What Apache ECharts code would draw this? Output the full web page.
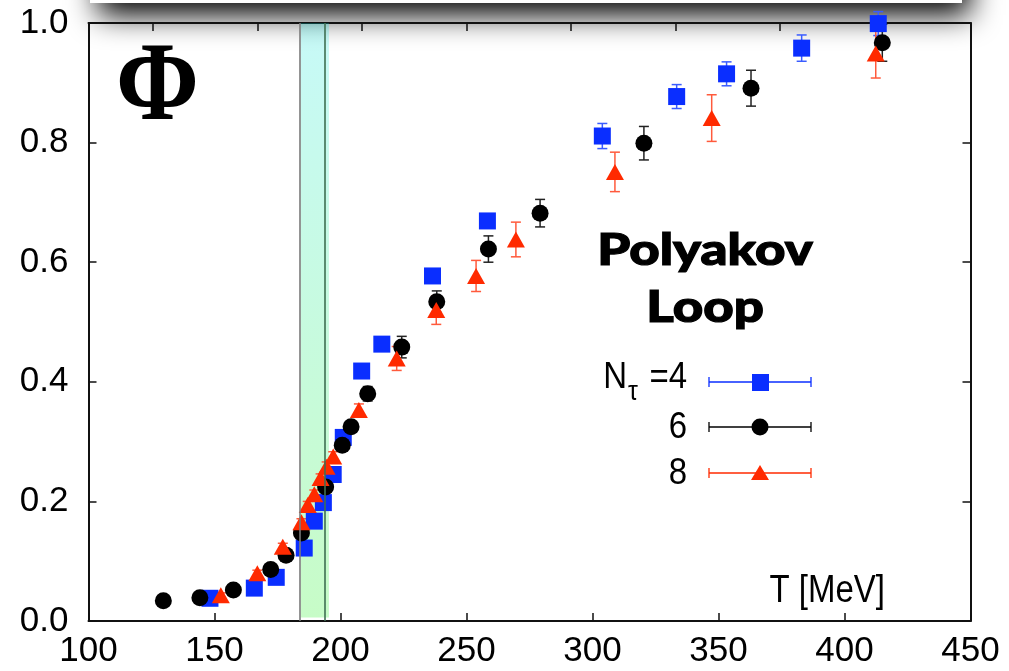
<!DOCTYPE html>
<html>
<head>
<meta charset="utf-8">
<script src="https://cdn.jsdelivr.net/npm/echarts@6/dist/echarts.min.js"></script>
<style>
html,body{margin:0;padding:0;background:#fff;}
#chart{width:1009px;height:671px;}
</style>
</head>
<body>
<div id="chart"></div>
<script>
// ---- data ----
const xTicksTop = [125.5, 167.0, 208.5, 250.0, 291.4, 332.9, 374.4, 415.8];
const bandRange = [184.2, 195.4];
const bandLines = [183.7, 193.6];

const T4 = [148.2, 165.8, 174.5, 185.6, 189.6, 193.2, 197.1, 201.1, 208.4, 216.4, 236.5, 258.3, 303.9, 333.4, 353.2, 383.0, 413.4];
const P4 = [0.038, 0.055, 0.073, 0.122, 0.167, 0.198, 0.245, 0.307, 0.418, 0.463, 0.577, 0.669, 0.811, 0.877, 0.915, 0.958, 0.999];
const E4 = [0.004, 0.004, 0.004, 0.005, 0.005, 0.005, 0.006, 0.006, 0.008, 0.008, 0.012, 0.012, 0.021, 0.020, 0.020, 0.022, 0.020];

const T6 = [129.7, 144.2, 157.5, 172.3, 178.4, 184.5, 194.1, 200.7, 204.2, 210.8, 224.3, 238.2, 258.7, 279.2, 320.4, 362.9, 415.0];
const P6 = [0.034, 0.039, 0.052, 0.086, 0.110, 0.147, 0.224, 0.294, 0.325, 0.380, 0.458, 0.534, 0.622, 0.682, 0.799, 0.891, 0.967];
const E6 = [0.003, 0.003, 0.004, 0.005, 0.005, 0.006, 0.007, 0.008, 0.009, 0.012, 0.018, 0.018, 0.022, 0.023, 0.028, 0.030, 0.031];

const T8 = [152.5, 167.0, 177.1, 184.5, 187.0, 189.6, 192.1, 194.5, 197.1, 207.3, 222.3, 238.0, 253.8, 269.6, 308.9, 347.3, 412.4];
const P8 = [0.043, 0.080, 0.124, 0.165, 0.194, 0.212, 0.239, 0.258, 0.275, 0.353, 0.439, 0.520, 0.577, 0.638, 0.751, 0.841, 0.949];
const E8 = [0.004, 0.005, 0.006, 0.006, 0.006, 0.007, 0.007, 0.008, 0.008, 0.010, 0.020, 0.024, 0.026, 0.029, 0.033, 0.039, 0.041];

// ---- styles ----
const BLUE = '#0a2eff', BLACK = '#000000', RED = '#ff2a00';
const FONT = '"Liberation Sans", Arial, Helvetica, sans-serif';

function pts(T, P, E) { return T.map((t, i) => [t, P[i], E[i]]); }

function errRender(color) {
  return function (params, api) {
    const x = api.value(0), y = api.value(1), e = api.value(2);
    const a = api.coord([x, y + e]);
    const b = api.coord([x, y - e]);
    const hw = 5;
    const st = { stroke: color, lineWidth: 1.5 };
    return {
      type: 'group',
      children: [
        { type: 'line', shape: { x1: a[0], y1: a[1], x2: b[0], y2: b[1] }, style: st },
        { type: 'line', shape: { x1: a[0] - hw, y1: a[1], x2: a[0] + hw, y2: a[1] }, style: st },
        { type: 'line', shape: { x1: b[0] - hw, y1: b[1], x2: b[0] + hw, y2: b[1] }, style: st }
      ]
    };
  };
}

const chart = echarts.init(document.getElementById('chart'), null, { renderer: 'canvas' });

const axisLineStyle = { color: '#111', width: 2 };

function legendRow(y, color, symbol) {
  const st = { stroke: color, lineWidth: 1.3 };
  const els = [
    { type: 'line', shape: { x1: 709, y1: y, x2: 811, y2: y }, style: st, z: 10 },
    { type: 'line', shape: { x1: 709, y1: y - 5, x2: 709, y2: y + 5 }, style: st, z: 10 },
    { type: 'line', shape: { x1: 811, y1: y - 5, x2: 811, y2: y + 5 }, style: st, z: 10 }
  ];
  if (symbol === 'rect') els.push({ type: 'rect', shape: { x: 752, y: y - 8, width: 17, height: 17 }, style: { fill: color }, z: 11 });
  if (symbol === 'circle') els.push({ type: 'circle', shape: { cx: 760, cy: y, r: 8.5 }, style: { fill: color }, z: 11 });
  if (symbol === 'tri') els.push({ type: 'polygon', shape: { points: [[760, y - 8], [769, y + 7], [751, y + 7]] }, style: { fill: color }, z: 11 });
  return els;
}

function txt(x, y, text, font, align, sy) {
  return { type: 'text', x: x, y: y, z: 10, scaleY: sy || 1, originX: 0, originY: 0,
    style: { text: text, font: font, fill: '#000', align: align, verticalAlign: 'middle' } };
}

const TITLE_FONT = '900 44px Lato, "Open Sans", sans-serif';

const graphics = [
  { type: 'rect', shape: { x: 90, y: -60, width: 872, height: 63 }, z: -1,
    style: { fill: '#ffffff', shadowBlur: 30, shadowOffsetY: 12, shadowOffsetX: 8, shadowColor: 'rgba(0,0,0,1)' } },
  txt(157.5, 90, 'Φ', 'bold 100px "Liberation Serif", "DejaVu Serif", serif', 'center', 1.12),
  { type: 'text', x: 705, y: 251, z: 10, scaleX: 1.2, originX: 0, originY: 0,
    style: { text: 'Polyakov', font: TITLE_FONT, fill: '#000', stroke: '#000', lineWidth: 1.2, align: 'center', verticalAlign: 'middle' } },
  { type: 'text', x: 705, y: 308, z: 10, scaleX: 1.2, originX: 0, originY: 0,
    style: { text: 'Loop', font: TITLE_FONT, fill: '#000', stroke: '#000', lineWidth: 1.2, align: 'center', verticalAlign: 'middle' } },
  txt(885, 592, 'T [MeV]', '33px ' + FONT, 'right', 1.15),
  txt(627, 378, 'N', '33px ' + FONT, 'right', 1.12),
  txt(628, 392, 'τ', '25px ' + FONT, 'left', 1.1),
  txt(687, 378, '=4', '33px ' + FONT, 'right', 1.12),
  txt(687, 428, '6', '33px ' + FONT, 'right', 1.12),
  txt(687, 474, '8', '33px ' + FONT, 'right', 1.12)
].concat(legendRow(382, BLUE, 'rect'), legendRow(427, BLACK, 'circle'), legendRow(473, RED, 'tri'));

const option = {
  backgroundColor: '#ffffff',
  animation: false,
  grid: { left: 88.5, right: 38.5, top: 23, bottom: 50, containLabel: false },
  xAxis: [
    {
      type: 'value', min: 100, max: 450, interval: 50, position: 'bottom',
      axisLine: { show: true, onZero: false, lineStyle: axisLineStyle },
      axisTick: { show: true, inside: true, length: 8, lineStyle: { color: '#111', width: 1.5 } },
      axisLabel: { show: true, margin: 13, fontSize: 35, color: '#000', fontFamily: FONT },
      splitLine: { show: false }
    },
    {
      type: 'value', min: 100, max: 450, position: 'top',
      axisLine: { show: true, onZero: false, lineStyle: axisLineStyle },
      axisTick: { show: true, inside: true, length: 8, customValues: xTicksTop, lineStyle: { color: '#111', width: 1.5 } },
      axisLabel: { show: false },
      splitLine: { show: false }
    }
  ],
  yAxis: [
    {
      type: 'value', min: 0, max: 1, interval: 0.2, position: 'left',
      axisLine: { show: true, onZero: false, lineStyle: axisLineStyle },
      axisTick: { show: true, inside: true, length: 8, lineStyle: { color: '#111', width: 1.5 } },
      axisLabel: { show: true, margin: 20, fontSize: 35, color: '#000', fontFamily: FONT,
        formatter: v => v.toFixed(1) },
      splitLine: { show: false }
    },
    {
      type: 'value', min: 0, max: 1, interval: 0.2, position: 'right',
      axisLine: { show: true, onZero: false, lineStyle: axisLineStyle },
      axisTick: { show: true, inside: true, length: 8, lineStyle: { color: '#111', width: 1.5 } },
      axisLabel: { show: false },
      splitLine: { show: false }
    }
  ],
  graphic: graphics,
  series: [
    { type: 'custom', name: 'err4', renderItem: errRender('#3a5cff'), data: pts(T4, P4, E4), z: 2, clip: false },
    { type: 'custom', name: 'err6', renderItem: errRender('#222'), data: pts(T6, P6, E6), z: 2, clip: false },
    { type: 'custom', name: 'err8', renderItem: errRender('#ff5a3c'), data: pts(T8, P8, E8), z: 2, clip: false },
    { type: 'scatter', name: 'Nt=4', data: pts(T4, P4, E4), symbol: 'rect', symbolSize: 17,
      itemStyle: { color: BLUE, opacity: 1 }, z: 3 },
    { type: 'scatter', name: '6', data: pts(T6, P6, E6), symbol: 'circle', symbolSize: 17,
      itemStyle: { color: BLACK, opacity: 1 }, z: 3 },
    { type: 'scatter', name: '8', data: pts(T8, P8, E8), symbol: 'triangle', symbolSize: [18, 16],
      itemStyle: { color: RED, opacity: 1 }, z: 3 },
    {
      type: 'scatter', name: 'band', data: [], z: 5, silent: true,
      markArea: {
        silent: true,
        itemStyle: {
          color: {
            type: 'linear', x: 0, y: 0, x2: 0, y2: 1,
            colorStops: [
              { offset: 0, color: 'rgba(0,230,222,0.22)' },
              { offset: 1, color: 'rgba(0,240,0,0.22)' }
            ]
          }
        },
        data: [[{ xAxis: bandRange[0], yAxis: 0.006 }, { xAxis: bandRange[1], yAxis: 1 }]]
      },
      markLine: {
        silent: true, symbol: 'none', label: { show: false },
        data: [
          { xAxis: bandLines[0], lineStyle: { color: '#7a7a7a', width: 1.6, type: 'solid' } },
          { xAxis: bandLines[1], lineStyle: { color: '#3f6f52', width: 1.6, type: 'solid' } }
        ]
      }
    }
  ]
};

chart.setOption(option);
</script>
</body>
</html>
